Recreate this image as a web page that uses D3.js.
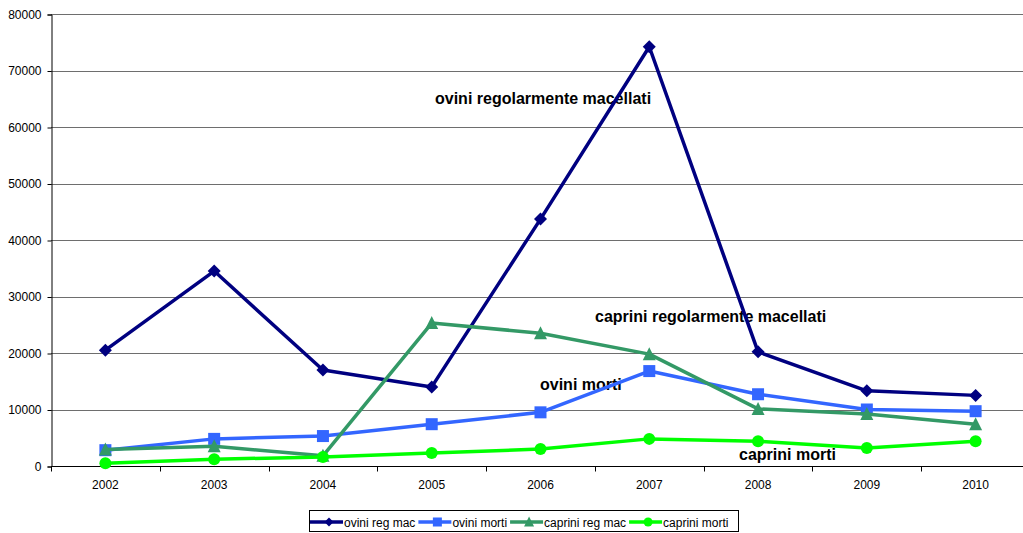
<!DOCTYPE html>
<html>
<head>
<meta charset="utf-8">
<script src="https://cdn.jsdelivr.net/npm/d3@7"></script>
<style>
body { margin: 0; background: #fff; }
svg { display: block; font-family: "Liberation Sans", Arial, sans-serif; }
</style>
</head>
<body>
<script>
var years = ["2002", "2003", "2004", "2005", "2006", "2007", "2008", "2009", "2010"];
var oviniRegMac = [20500, 34500, 17000, 14000, 43700, 74200, 20200, 13300, 12500];
var oviniMorti = [2800, 4800, 5300, 7400, 9500, 16800, 12700, 10000, 9700];
var capriniRegMac = [2900, 3500, 1800, 25300, 23500, 19800, 10100, 9200, 7400];
var capriniMorti = [500, 1200, 1600, 2300, 3000, 4800, 4400, 3200, 4400];
var yTicks = [0, 10000, 20000, 30000, 40000, 50000, 60000, 70000, 80000];

var series = [
	{ name: "ovini reg mac", values: oviniRegMac, color: "#000080", marker: "diamond" },
	{ name: "ovini morti", values: oviniMorti, color: "#3366ff", marker: "square" },
	{ name: "caprini reg mac", values: capriniRegMac, color: "#339966", marker: "triangle" },
	{ name: "caprini morti", values: capriniMorti, color: "#00ff00", marker: "circle" }
];

var labels = [
	{ text: "ovini regolarmente macellati", x: 435, y: 104 },
	{ text: "caprini regolarmente macellati", x: 595, y: 322 },
	{ text: "ovini morti", x: 540, y: 390 },
	{ text: "caprini morti", x: 739, y: 460 }
];

var W = 1023, H = 533;
var plotLeft = 51, plotRight = 1030, plotTop = 14, plotBottom = 466;

var svg = d3.select("body").append("svg")
	.attr("width", W)
	.attr("height", H);

var x = d3.scaleBand()
	.domain(years)
	.range([plotLeft, plotRight])
	.padding(0);

var y = d3.scaleLinear()
	.domain([0, 80000])
	.range([plotBottom, plotTop]);

// grid lines
svg.append("g")
	.selectAll("line")
	.data(yTicks.slice(1))
	.enter()
	.append("line")
	.attr("x1", plotLeft)
	.attr("x2", plotRight)
	.attr("y1", function (d) { return Math.round(y(d)) + 0.5; })
	.attr("y2", function (d) { return Math.round(y(d)) + 0.5; })
	.attr("stroke", "#6e6e6e")
	.attr("stroke-width", 1);

// y axis
var yAxis = svg.append("g")
	.attr("transform", "translate(" + (plotLeft + 0.5) + ",0.5)")
	.call(d3.axisLeft(y).tickValues(yTicks).tickSize(4).tickPadding(6).tickFormat(d3.format("d")));
yAxis.select(".domain").attr("stroke", "#000");
yAxis.selectAll("text").attr("font-size", "12px").attr("fill", "#000")
	.attr("font-family", "Liberation Sans, Arial, sans-serif");

// x axis
var xAxis = svg.append("g")
	.attr("transform", "translate(0," + (plotBottom + 0.5) + ")");
xAxis.append("line")
	.attr("x1", plotLeft).attr("x2", plotRight)
	.attr("stroke", "#000");
xAxis.selectAll(".tk")
	.data(d3.range(years.length + 1))
	.enter()
	.append("line")
	.attr("x1", function (i) { return Math.round(plotLeft + i * x.bandwidth()) + 0.5; })
	.attr("x2", function (i) { return Math.round(plotLeft + i * x.bandwidth()) + 0.5; })
	.attr("y1", 0).attr("y2", 5)
	.attr("stroke", "#000");
xAxis.selectAll("text")
	.data(years)
	.enter()
	.append("text")
	.attr("x", function (d) { return x(d) + x.bandwidth() / 2; })
	.attr("y", 22)
	.attr("text-anchor", "middle")
	.attr("font-size", "12px")
	.text(function (d) { return d; });

// series labels (under the lines, as in the original)
svg.selectAll(".lbl")
	.data(labels)
	.enter()
	.append("text")
	.attr("class", "lbl")
	.attr("x", function (d) { return d.x; })
	.attr("y", function (d) { return d.y; })
	.attr("font-size", "16px")
	.attr("font-weight", "bold")
	.attr("fill", "#000")
	.text(function (d) { return d.text; });

var line = d3.line()
	.x(function (d, i) { return x(years[i]) + x.bandwidth() / 2; })
	.y(function (d) { return y(d); });

function drawMarker(g, type, color, size) {
	var s = size;
	if (type === "diamond") {
		g.append("path").attr("d", "M0," + (-s / 2) + "L" + (s / 2) + ",0L0," + (s / 2) + "L" + (-s / 2) + ",0Z").attr("fill", color);
	} else if (type === "square") {
		g.append("rect").attr("x", -s / 2).attr("y", -s / 2).attr("width", s).attr("height", s).attr("fill", color);
	} else if (type === "triangle") {
		g.append("path").attr("d", "M0," + (-s / 2 - 1) + "L" + (s / 2 + 0.5) + "," + (s / 2) + "L" + (-s / 2 - 0.5) + "," + (s / 2) + "Z").attr("fill", color);
	} else {
		g.append("circle").attr("r", s / 2).attr("fill", color);
	}
}

var markerSize = { diamond: 13, square: 12, triangle: 12, circle: 12 };

series.forEach(function (s) {
	svg.append("path")
		.datum(s.values)
		.attr("d", line)
		.attr("fill", "none")
		.attr("stroke", s.color)
		.attr("stroke-width", 3.5)
		.attr("stroke-linejoin", "round");
	s.values.forEach(function (v, i) {
		var g = svg.append("g")
			.attr("transform", "translate(" + (x(years[i]) + x.bandwidth() / 2) + "," + y(v) + ")");
		drawMarker(g, s.marker, s.color, markerSize[s.marker]);
	});
});

// legend
var legend = svg.append("g");
legend.append("rect")
	.attr("x", 309.5).attr("y", 510.5)
	.attr("width", 429).attr("height", 21)
	.attr("fill", "#fff")
	.attr("stroke", "#000");
var cx = 310;
series.forEach(function (s, i) {
	var g = legend.append("g").attr("transform", "translate(" + cx + ",522)");
	g.append("line").attr("x1", 0).attr("x2", 33).attr("stroke", s.color).attr("stroke-width", 3.5);
	var m = g.append("g").attr("transform", "translate(19,0)");
	drawMarker(m, s.marker, s.color, 9);
	var t = g.append("text")
		.attr("x", 34).attr("y", 4.5)
		.attr("font-size", "12px")
		.text(s.name);
	cx += 34 + t.node().getComputedTextLength() + 3;
});
</script>
</body>
</html>
